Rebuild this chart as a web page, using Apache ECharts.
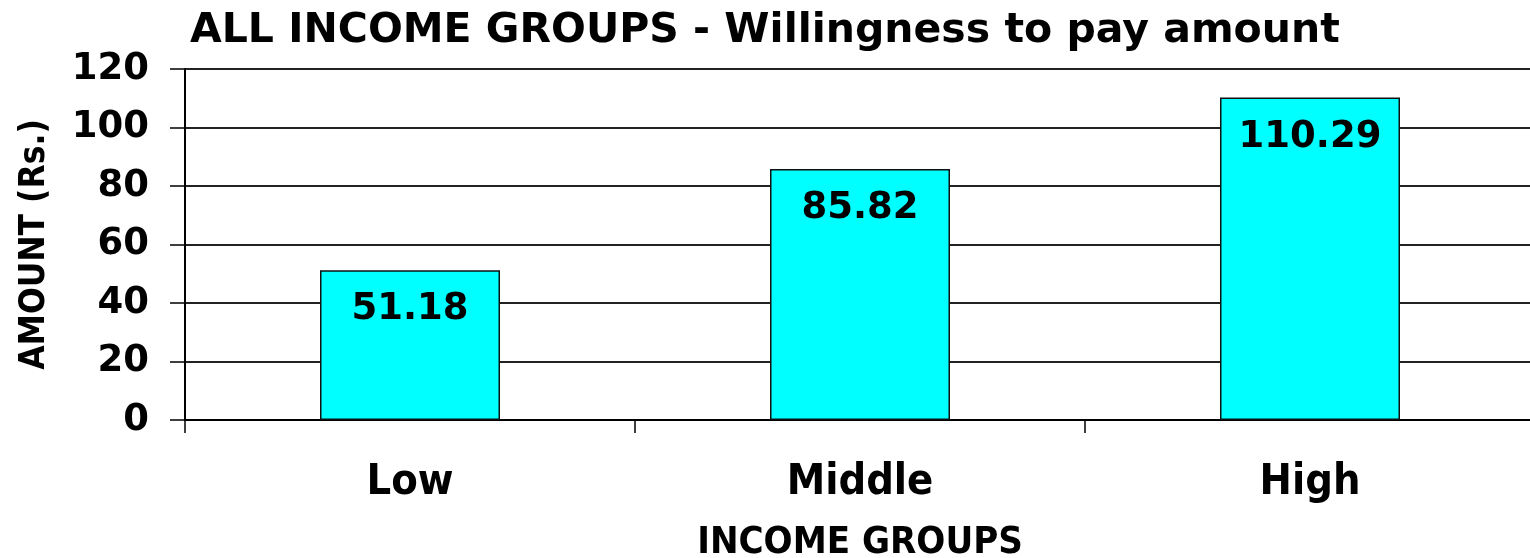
<!DOCTYPE html>
<html>
<head>
<meta charset="utf-8">
<script src="https://cdn.jsdelivr.net/npm/echarts@6/dist/echarts.min.js"></script>
<style>
  html, body { margin: 0; padding: 0; background: #ffffff; }
  #chart { width: 1530px; height: 558px; }
</style>
</head>
<body>
<div id="chart"></div>
<script>
// Income groups and their average willingness-to-pay amounts (Rs.)
const categories = ['Low', 'Middle', 'High'];
const amounts = [51.18, 85.82, 110.29];
const yTicks = { min: 0, max: 120, interval: 20 };

const titleText = 'ALL INCOME GROUPS - Willingness to pay amount';
const xName = 'INCOME GROUPS';
const yName = 'AMOUNT (Rs.)';

const FONT = '"DejaVu Sans", Verdana, sans-serif';
const FONT_COND = '"DejaVu Sans Condensed", "DejaVu Sans", sans-serif';

const chart = echarts.init(document.getElementById('chart'), null, { renderer: 'canvas' });

chart.setOption({
  animation: false,
  backgroundColor: '#ffffff',
  title: {
    text: titleText,
    left: 185,
    top: 6,
    textStyle: { fontFamily: FONT, fontWeight: 'bold', fontSize: 41, color: '#000' }
  },
  grid: {
    left: 185, top: 69, right: -5, bottom: 138,
    containLabel: false,
    outerBoundsMode: 'none'
  },
  xAxis: {
    type: 'category',
    data: categories,
    name: xName,
    nameLocation: 'middle',
    nameGap: 104,
    nameTextStyle: { fontFamily: FONT_COND, fontWeight: 'bold', fontSize: 38, color: '#000' },
    axisLine: { lineStyle: { color: '#000', width: 2 } },
    axisTick: { show: true, length: 13, lineStyle: { color: '#000', width: 1.5 } },
    axisLabel: { margin: 41, fontFamily: FONT_COND, fontWeight: 'bold', fontSize: 43, color: '#000' }
  },
  yAxis: {
    type: 'value',
    min: yTicks.min,
    max: yTicks.max,
    interval: yTicks.interval,
    name: yName,
    nameLocation: 'middle',
    nameGap: 133,
    nameRotate: 90,
    nameTextStyle: { fontFamily: FONT_COND, fontWeight: 'bold', fontSize: 35, color: '#000' },
    axisLine: { show: true, lineStyle: { color: '#000', width: 2 } },
    axisTick: { show: true, length: 15, lineStyle: { color: '#000', width: 1.5 } },
    axisLabel: { margin: 36, fontFamily: FONT, fontWeight: 'bold', fontSize: 37, color: '#000' },
    splitLine: { show: true, lineStyle: { color: '#222', width: 2 } }
  },
  series: [{
    type: 'bar',
    data: amounts,
    barWidth: '40%',
    itemStyle: { color: '#00FFFF', borderColor: '#111', borderWidth: 1.5 },
    label: {
      show: true,
      position: 'insideTop',
      distance: 21,
      fontFamily: FONT,
      fontWeight: 'bold',
      fontSize: 37,
      color: '#000',
      formatter: (p) => p.value.toFixed(2)
    }
  }]
});
</script>
</body>
</html>
